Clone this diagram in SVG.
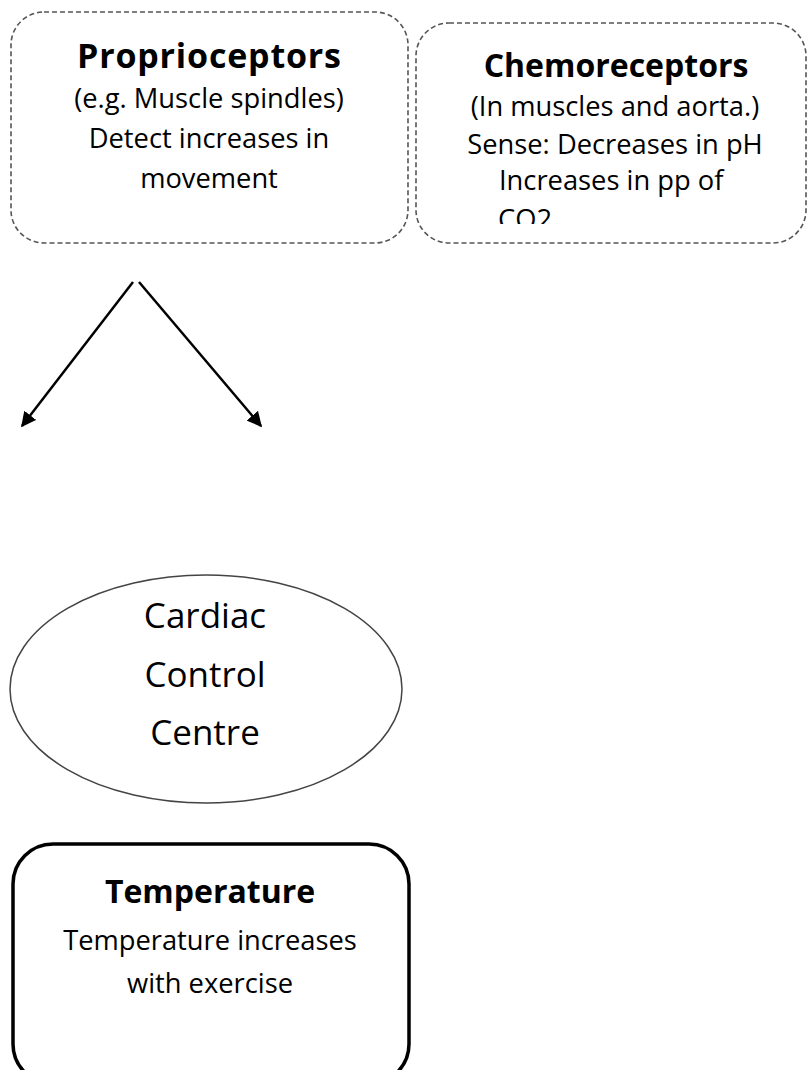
<svg xmlns="http://www.w3.org/2000/svg" width="808" height="1070" viewBox="0 0 808 1070">
<style>
text{font-family:"Open Sans","Liberation Sans",sans-serif;fill:#000;text-anchor:middle}
.t{font-weight:bold;font-size:32px}
.b{font-size:27.3px}
.c{font-size:35px}
.dash{fill:#fff;stroke:#555;stroke-width:1.6;stroke-dasharray:5 3}
.conn{stroke:#000;stroke-width:2.5;fill:none}
</style>
<defs>
<marker id="ah" viewBox="0 0 10 10" refX="9" refY="5" markerWidth="6" markerHeight="6" markerUnits="strokeWidth" orient="auto">
<path d="M0,0 L10,5 L0,10 z" fill="#000"/>
</marker>
<clipPath id="clip2"><rect x="416" y="23" width="392" height="201"/></clipPath>
</defs>
<rect width="808" height="1070" fill="#fff"/>
<g id="proprioceptors">
<rect class="dash" x="11" y="12" width="397" height="231" rx="33" ry="33"/>
<text class="t" x="209" y="68" style="font-size:34px" textLength="264">Proprioceptors</text>
<text class="b" x="209" y="108">(e.g. Muscle spindles)</text>
<text class="b" x="209" y="148">Detect increases in</text>
<text class="b" x="209" y="188">movement</text>
</g>
<g id="chemoreceptors">
<rect class="dash" x="416" y="23" width="390" height="220" rx="33" ry="33"/>
<g clip-path="url(#clip2)">
<text class="t" x="616" y="77">Chemoreceptors</text>
<text class="b" x="615" y="116">(In muscles and aorta.)</text>
<text class="b" x="615" y="154">Sense: Decreases in pH</text>
<text class="b" x="499" y="190" style="text-anchor:start">Increases in pp of</text>
<text class="b" x="498" y="229" style="text-anchor:start">CO2</text>
</g>
</g>
<g id="connectors">
<line class="conn" x1="133" y1="282" x2="22" y2="426" marker-end="url(#ah)"/>
<line class="conn" x1="139" y1="282" x2="261" y2="426" marker-end="url(#ah)"/>
</g>
<g id="cardiac-control-centre">
<ellipse cx="206" cy="689" rx="196" ry="114" fill="#fff" stroke="#444" stroke-width="1.5"/>
<text class="c" x="205" y="628">Cardiac</text>
<text class="c" x="205" y="687">Control</text>
<text class="c" x="205" y="745">Centre</text>
</g>
<g id="temperature">
<rect x="13" y="844" width="396" height="240" rx="40" ry="40" fill="#fff" stroke="#000" stroke-width="3.5"/>
<text class="t" x="210" y="903">Temperature</text>
<text class="b" x="210" y="950">Temperature increases</text>
<text class="b" x="210" y="993">with exercise</text>
</g>
</svg>
